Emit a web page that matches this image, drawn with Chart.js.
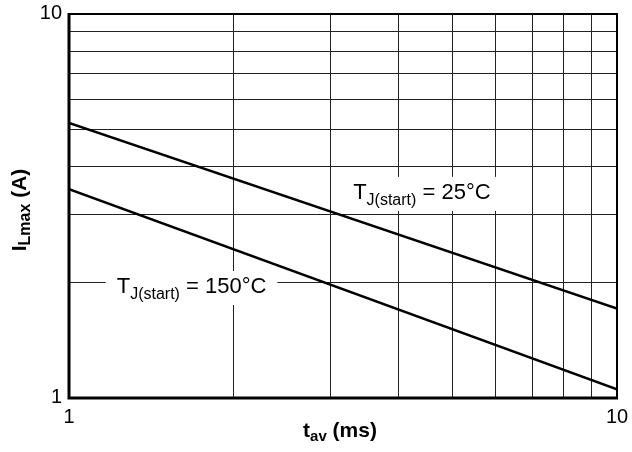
<!DOCTYPE html>
<html>
<head>
<meta charset="utf-8">
<script src="https://cdn.jsdelivr.net/npm/chart.js@4.4.1/dist/chart.umd.min.js"></script>
<style>
  html, body { margin: 0; padding: 0; background: #fff; }
  #wrap { width: 632px; height: 452px; }
</style>
</head>
<body>
<div id="wrap"><canvas id="c" width="632" height="452"></canvas></div>
<script>
// ---- data ----
const tavMs = [1, 10];
const iLmax25 = [5.2, 1.71];
const iLmax150 = [3.5, 1.053];
const xTickValues = [1, 2, 3, 4, 5, 6, 7, 8, 9, 10];
const yTickValues = [1, 2, 3, 4, 5, 6, 7, 8, 9, 10];
const labeledTicks = [1, 10];
const seriesLabels = [
  { main: 'T', sub: 'J(start)', rest: ' = 25°C', x: 3.30, y: 3.30 },
  { main: 'T', sub: 'J(start)', rest: ' = 150°C', x: 1.222, y: 1.877 }
];

const FONT = '"Liberation Sans", Arial, Helvetica, sans-serif';

function pts(xs, ys) { return xs.map((x, i) => ({ x: x, y: ys[i] })); }

const overlay = {
  id: 'overlay',
  afterDatasetsDraw(chart) {
    const ctx = chart.ctx;
    const xs = chart.scales.x, ys = chart.scales.y;
    const a = chart.chartArea;
    // frame
    ctx.save();
    ctx.strokeStyle = '#000';
    ctx.lineWidth = 2;
    ctx.strokeRect(a.left, a.top, a.right - a.left, a.bottom - a.top);
    ctx.lineWidth = 3;
    ctx.beginPath();
    ctx.moveTo(a.left, a.top - 1);
    ctx.lineTo(a.left, a.bottom);
    ctx.lineTo(a.right + 1, a.bottom);
    ctx.stroke();
    ctx.restore();

    // series labels with white boxes
    seriesLabels.forEach(l => {
      const px = xs.getPixelForValue(l.x);
      const py = ys.getPixelForValue(l.y);
      ctx.save();
      const mf = '22px ' + FONT, sf = '16px ' + FONT;
      ctx.font = mf;
      const w1 = ctx.measureText(l.main).width;
      const w3 = ctx.measureText(l.rest).width;
      ctx.font = sf;
      const w2 = ctx.measureText(l.sub).width;
      const W = w1 + w2 + w3;
      ctx.fillStyle = '#fff';
      ctx.fillRect(px - 11, py - 22, W + 22, 34);
      ctx.fillStyle = '#000';
      ctx.textBaseline = 'alphabetic';
      ctx.textAlign = 'left';
      ctx.font = mf;
      ctx.fillText(l.main, px, py);
      ctx.font = sf;
      ctx.fillText(l.sub, px + w1, py + 6);
      ctx.font = mf;
      ctx.fillText(l.rest, px + w1 + w2, py);
      ctx.restore();
    });
  },
  afterDraw(chart) {
    const ctx = chart.ctx;
    const xs = chart.scales.x, ys = chart.scales.y;
    const a = chart.chartArea;
    // tick labels
    ctx.save();
    ctx.fillStyle = '#000';
    ctx.font = '20px ' + FONT;
    ctx.textBaseline = 'alphabetic';
    ctx.textAlign = 'center';
    labeledTicks.forEach(v => {
      ctx.fillText(String(v), xs.getPixelForValue(v), a.bottom + 25);
    });
    ctx.textAlign = 'right';
    labeledTicks.forEach(v => {
      ctx.fillText(String(v), a.left - 7, ys.getPixelForValue(v) + 5);
    });
    ctx.restore();

    // x title: t_av (ms)
    ctx.save();
    ctx.fillStyle = '#000';
    ctx.textBaseline = 'alphabetic';
    ctx.textAlign = 'left';
    const mainF = 'bold 21px ' + FONT, subF = 'bold 15px ' + FONT;
    ctx.font = mainF; const a1 = ctx.measureText('t').width; const a3 = ctx.measureText(' (ms)').width;
    ctx.font = subF; const a2 = ctx.measureText('av').width;
    let x0 = 340 - (a1 + a2 + a3) / 2;
    ctx.font = mainF; ctx.fillText('t', x0, 437);
    ctx.font = subF; ctx.fillText('av', x0 + a1, 441);
    ctx.font = mainF; ctx.fillText(' (ms)', x0 + a1 + a2, 437);
    ctx.restore();

    // y title: I_Lmax (A)
    ctx.save();
    ctx.translate(26, 210);
    ctx.rotate(-Math.PI / 2);
    ctx.fillStyle = '#000';
    ctx.textBaseline = 'alphabetic';
    ctx.textAlign = 'left';
    ctx.font = mainF; const b1 = ctx.measureText('I').width; const b3 = ctx.measureText(' (A)').width;
    ctx.font = 'bold 16px ' + FONT; const b2 = ctx.measureText('Lmax').width;
    let y0 = -(b1 + b2 + b3) / 2;
    ctx.font = mainF; ctx.fillText('I', y0, 0);
    ctx.font = 'bold 16px ' + FONT; ctx.fillText('Lmax', y0 + b1, 4);
    ctx.font = mainF; ctx.fillText(' (A)', y0 + b1 + b2, 0);
    ctx.restore();
  }
};

new Chart(document.getElementById('c'), {
  type: 'line',
  data: {
    datasets: [
      { label: '25', data: pts(tavMs, iLmax25), borderColor: '#000', borderWidth: 2.5, pointRadius: 0, tension: 0 },
      { label: '150', data: pts(tavMs, iLmax150), borderColor: '#000', borderWidth: 2.5, pointRadius: 0, tension: 0 }
    ]
  },
  options: {
    responsive: false,
    animation: false,
    events: [],
    layout: { padding: { left: 0, top: 14, right: 15, bottom: 0 } },
    plugins: { legend: { display: false }, tooltip: { enabled: false } },
    scales: {
      x: {
        type: 'logarithmic', min: 1, max: 10,
        afterBuildTicks(s) { s.ticks = xTickValues.map(v => ({ value: v })); },
        afterFit(s) { s.height = 54; },
        grid: { color: '#222', lineWidth: 1, drawTicks: false },
        border: { display: false },
        ticks: { display: false, autoSkip: false }
      },
      y: {
        type: 'logarithmic', min: 1, max: 10,
        afterBuildTicks(s) { s.ticks = yTickValues.map(v => ({ value: v })); },
        afterFit(s) { s.width = 69; },
        grid: { color: '#222', lineWidth: 1, drawTicks: false },
        border: { display: false },
        ticks: { display: false, autoSkip: false }
      }
    }
  },
  plugins: [overlay]
});
</script>
</body>
</html>
